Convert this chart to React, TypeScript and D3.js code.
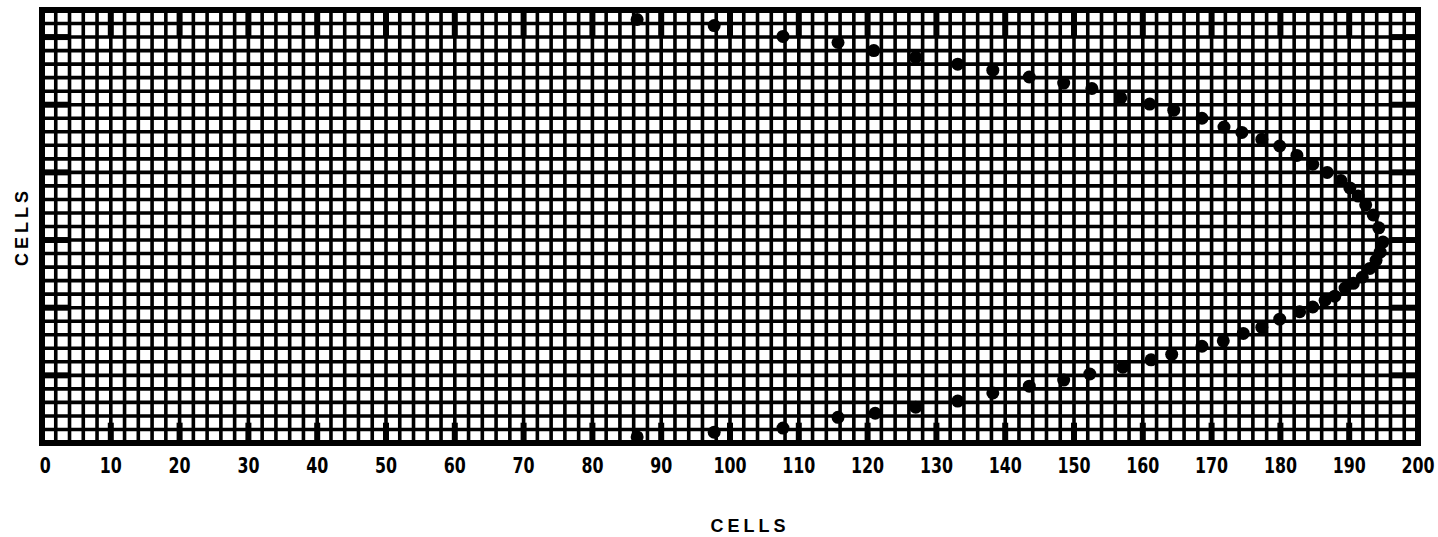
import React from "react";
import * as d3 from "d3";

// upper branch of the curve (cells, cells)
const upperX = [86.5, 97.7, 107.7, 115.7, 120.9, 127.0, 133.1, 138.2, 143.5, 148.5, 152.6, 156.8, 161.0, 164.5, 168.6, 171.8, 174.4, 177.3, 179.9, 182.4, 184.7, 186.8, 188.8, 190.1, 191.3, 192.4, 193.5, 194.3, 194.9];
const upperY = [62.6, 61.7, 60.1, 59.2, 58.0, 57.0, 56.0, 55.1, 54.1, 53.2, 52.4, 51.0, 50.1, 49.2, 48.0, 46.7, 45.9, 44.9, 43.9, 42.5, 41.2, 40.0, 38.8, 37.7, 36.5, 35.2, 33.7, 31.8, 29.7];

// lower branch
const lowerX = [194.5, 193.9, 193.0, 191.9, 190.6, 189.4, 187.9, 186.5, 184.7, 182.8, 179.9, 177.3, 174.6, 171.7, 168.6, 164.2, 161.2, 157.1, 152.3, 148.5, 143.5, 138.2, 133.1, 127.0, 121.1, 115.7, 107.7, 97.7, 86.5];
const lowerY = [28.2, 27.0, 25.8, 24.5, 23.6, 22.9, 21.7, 21.1, 20.1, 19.4, 18.3, 17.1, 16.2, 15.1, 14.3, 13.1, 12.3, 11.2, 10.2, 9.3, 8.4, 7.4, 6.2, 5.3, 4.4, 3.8, 2.2, 1.6, 0.9];

const xTicks = [0, 10, 20, 30, 40, 50, 60, 70, 80, 90, 100, 110, 120, 130, 140, 150, 160, 170, 180, 190, 200];
const yMarks = [10, 20, 30, 40, 50, 60];
const axisTitle = "CELLS";

const W = 1438;
const H = 537;
const margin = { top: 10, right: 20, bottom: 94, left: 42 };

export default function App() {
  const x = d3.scaleLinear().domain([0, 200]).range([margin.left, W - margin.right]);
  const y = d3.scaleLinear().domain([0, 64]).range([H - margin.bottom, margin.top]);

  const gridX = d3.range(0, 201, 2);
  const gridY = d3.range(0, 65, 2);
  const pts = [
    ...upperX.map((v, i) => [v, upperY[i]]),
    ...lowerX.map((v, i) => [v, lowerY[i]]),
  ];

  const x0 = x(0), x1 = x(200), y0 = y(0), y1 = y(64);
  const cellW = x(2) - x(0);
  const cellH = y(0) - y(2);

  return (
    <svg width={W} height={H} style={{ position: "absolute", left: 0, top: 0, background: "#fff" }}>
      {/* grid */}
      <g stroke="#000" strokeWidth={3.6}>
        {gridX.map((d) => (
          <line key={"gx" + d} x1={x(d)} x2={x(d)} y1={y1} y2={y0} />
        ))}
        {gridY.map((d) => (
          <line key={"gy" + d} x1={x0} x2={x1} y1={y(d)} y2={y(d)} />
        ))}
      </g>
      {/* heavy marks every 10 */}
      <g stroke="#000" strokeWidth={6}>
        {xTicks.slice(1, -1).map((d) => (
          <g key={"mx" + d}>
            <line x1={x(d)} x2={x(d)} y1={y1} y2={y1 + cellH * 2} />
            <line x1={x(d)} x2={x(d)} y1={y0} y2={y0 - cellH * 1.5} />
          </g>
        ))}
        {yMarks.map((d) => (
          <g key={"my" + d}>
            <line x1={x0} x2={x0 + cellW * 2} y1={y(d)} y2={y(d)} />
            <line x1={x1} x2={x1 - cellW * 2} y1={y(d)} y2={y(d)} />
          </g>
        ))}
      </g>
      <rect x={x0} y={y1} width={x1 - x0} height={y0 - y1} fill="none" stroke="#000" strokeWidth={6} />
      {/* points */}
      <g fill="#000">
        {pts.map((p, i) => (
          <circle key={i} cx={x(p[0])} cy={y(p[1])} r={6.5} />
        ))}
      </g>
      {/* tick labels */}
      <g
        fontFamily="'Liberation Sans Narrow', 'DejaVu Sans Condensed', 'Liberation Sans', sans-serif"
        fontWeight="bold"
        fontSize={22}
        textAnchor="middle"
        fill="#000"
      >
        {xTicks.map((d) => (
          <text key={"t" + d} x={x(d) + (d === 0 ? 4 : 0)} y={y0 + 30} transform={`translate(${x(d)},0) scale(0.8,1) translate(${-x(d)},0)`}>
            {d}
          </text>
        ))}
      </g>
      {/* axis titles */}
      <g fontFamily="'Liberation Sans', Arial, sans-serif" fontWeight="bold" fontSize={18} fill="#000" letterSpacing={4}>
        <text x={750} y={532} textAnchor="middle">{axisTitle}</text>
        <text transform={`translate(28,${(y0 + y1) / 2}) rotate(-90)`} textAnchor="middle">{axisTitle}</text>
      </g>
    </svg>
  );
}
